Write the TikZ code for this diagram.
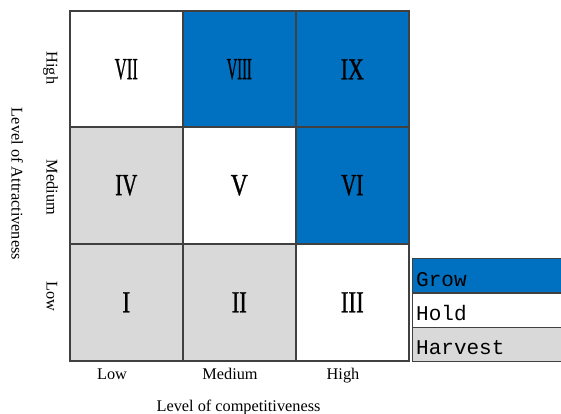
\documentclass[tikz,border=0pt]{standalone}
\usepackage{fontspec}
\setmainfont{Liberation Serif}
\setmonofont{Liberation Mono}
\newfontfamily\numfont[FakeBold=1.2]{Liberation Serif}
\usepackage{graphicx}
\definecolor{growblue}{HTML}{0070C0}
\definecolor{harvestgray}{HTML}{D9D9D9}
\definecolor{edgegray}{HTML}{404040}
% Roman numeral squeezed to a given width and a fixed cap height
\newcommand{\romnum}[2]{\resizebox{#1pt}{20pt}{\numfont #2}}
\begin{document}
\begin{tikzpicture}[x=1pt,y=-1pt,
  cellbox/.style={draw=edgegray,line width=1.6pt,minimum width=113pt,minimum height=117pt,inner sep=0pt,anchor=north west},
  legbox/.style={draw=edgegray,line width=1.2pt,minimum width=155pt,minimum height=34pt,inner sep=0pt,anchor=north west},
  legtext/.style={font=\fontsize{21}{21}\ttfamily,anchor=base west,inner sep=0pt},
  axlabel/.style={font=\fontsize{16.3}{16.3}\selectfont,inner sep=0pt,anchor=base}]
\useasboundingbox (0,0) rectangle (561,414);
\begin{scope}
\clip (0,0) rectangle (561,414);
% matrix cells, top row first
\node[cellbox,fill=white]       (c7) at (69,10)  {};
\node[cellbox,fill=growblue]    (c8) at (182,10) {};
\node[cellbox,fill=growblue]    (c9) at (295,10) {};
\node[cellbox,fill=harvestgray] (c4) at (69,126) {};
\node[cellbox,fill=white]       (c5) at (182,126) {};
\node[cellbox,fill=growblue]    (c6) at (295,126) {};
\node[cellbox,fill=harvestgray] (c1) at (69,243) {};
\node[cellbox,fill=harvestgray] (c2) at (182,243) {};
\node[cellbox,fill=white]       (c3) at (295,243) {};
% cell numerals
\node (n7) at (c7.center) {\romnum{23}{VII}};
\node (n8) at (c8.center) {\romnum{25}{VIII}};
\node (n9) at (c9.center) {\romnum{23}{IX}};
\node (n4) at (c4.center) {\romnum{22}{IV}};
\node (n5) at (c5.center) {\romnum{17}{V}};
\node (n6) at (c6.center) {\romnum{22}{VI}};
\node (n1) at (c1.center) {\romnum{8}{I}};
\node (n2) at (c2.center) {\romnum{15}{II}};
\node (n3) at (c3.center) {\romnum{23}{III}};
% legend
\node[legbox,fill=growblue]    (lg) at (412,258) {};
\node[legbox,fill=white]       (lh) at (412,292.5) {};
\node[legbox,fill=harvestgray] (lv) at (412,327) {};
\node[legtext] (tg) at (416,286) {Grow};
\node[legtext] (th) at (416,320.5) {Hold};
\node[legtext] (tv) at (416,354.5) {Harvest};
% axis tick labels
\node[axlabel] (xl) at (112,379) {Low};
\node[axlabel] (xm) at (230,379) {Medium};
\node[axlabel] (xh) at (343,379) {High};
\node[axlabel,rotate=-90] (yh) at (46.5,68) {High};
\node[axlabel,rotate=-90] (ym) at (46.5,187.5) {Medium};
\node[axlabel,rotate=-90] (yl) at (46.5,296.5) {Low};
% axis titles
\node[axlabel] (xt) at (238.5,411) {Level of competitiveness};
\node[axlabel,rotate=-90] (yt) at (11.5,184) {Level of Attractiveness};
\end{scope}
\end{tikzpicture}
\end{document}
